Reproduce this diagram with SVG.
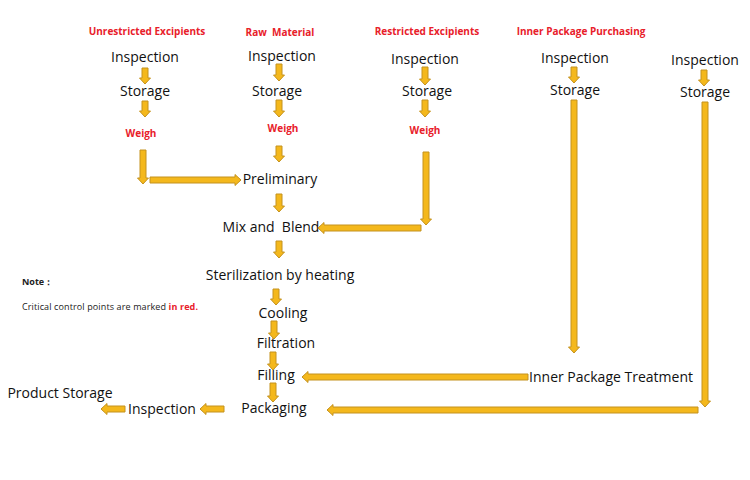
<svg xmlns="http://www.w3.org/2000/svg" width="750" height="480" viewBox="0 0 750 480">
<style>
.t{font-family:"Open Sans","Noto Sans",sans-serif;font-size:14px;fill:#111;text-anchor:middle}
.h{font-family:"Open Sans","Noto Sans",sans-serif;font-size:10px;font-weight:bold;fill:#e8202a;text-anchor:middle}
.w{font-family:"Open Sans","Noto Sans",sans-serif;font-size:10px;font-weight:bold;fill:#e8202a;text-anchor:middle}
.n{font-family:"Open Sans","Noto Sans",sans-serif;font-size:9px;fill:#222}
.arr{fill:#f4b81c;stroke:#c4921e;stroke-width:1}
</style>
<rect width="750" height="480" fill="#fff"/>
<g id="headings">
<text class="h" x="147" y="35">Unrestricted Excipients</text>
<text class="h" x="280" y="36" xml:space="preserve">Raw  Material</text>
<text class="h" x="427" y="35">Restricted Excipients</text>
<text class="h" x="581" y="35">Inner Package Purchasing</text>
</g>
<g id="col1">
<text class="t" x="145" y="62">Inspection</text>
<text class="t" x="145" y="96">Storage</text>
<text class="w" x="141" y="137">Weigh</text>
</g>
<g id="col2">
<text class="t" x="282" y="61">Inspection</text>
<text class="t" x="277" y="96">Storage</text>
<text class="w" x="283" y="132">Weigh</text>
<text class="t" x="280" y="184">Preliminary</text>
<text class="t" x="271" y="232" xml:space="preserve">Mix and  Blend</text>
<text class="t" x="280" y="280">Sterilization by heating</text>
<text class="t" x="283" y="318">Cooling</text>
<text class="t" x="286" y="348">Filtration</text>
<text class="t" x="276" y="380">Filling</text>
<text class="t" x="274" y="413">Packaging</text>
</g>
<g id="col3">
<text class="t" x="425" y="64">Inspection</text>
<text class="t" x="427" y="96">Storage</text>
<text class="w" x="425" y="134">Weigh</text>
</g>
<g id="col4">
<text class="t" x="575" y="63">Inspection</text>
<text class="t" x="575" y="95">Storage</text>
<text class="t" x="611" y="382">Inner Package Treatment</text>
</g>
<g id="col5">
<text class="t" x="705" y="65">Inspection</text>
<text class="t" x="705" y="97">Storage</text>
</g>
<g id="final">
<text class="t" x="162" y="414">Inspection</text>
<text class="t" x="60" y="398">Product Storage</text>
</g>
<g id="note">
<text class="n" x="22" y="285" font-weight="bold">Note：</text>
<text class="n" x="22" y="310" textLength="176">Critical control points are marked <tspan fill="#e8202a" font-weight="bold">in red.</tspan></text>
</g>
<g id="connectors">
<path class="arr" d="M142 68H148V78H150.5L145 84L139.5 78H142Z"/>
<path class="arr" d="M142 101H148V111H150.5L145 117L139.5 111H142Z"/>
<path class="arr" d="M276 64H282V75H284.5L279 81L273.5 75H276Z"/>
<path class="arr" d="M276 100H282V111H284.5L279 117L273.5 111H276Z"/>
<path class="arr" d="M276 146H282V156H284.5L279 162L273.5 156H276Z"/>
<path class="arr" d="M276 194H282V206H284.5L279 212L273.5 206H276Z"/>
<path class="arr" d="M276 241H282V252H284.5L279 258L273.5 252H276Z"/>
<path class="arr" d="M273 289H279V299H281.5L276 305L270.5 299H273Z"/>
<path class="arr" d="M271 321H277V333H279.5L274 339L268.5 333H271Z"/>
<path class="arr" d="M270 352H276V364H278.5L273 370L267.5 364H270Z"/>
<path class="arr" d="M270 383H276V396H278.5L273 402L267.5 396H270Z"/>
<path class="arr" d="M422 67H428V79H430.5L425 85L419.5 79H422Z"/>
<path class="arr" d="M422 100H428V111H430.5L425 117L419.5 111H422Z"/>
<path class="arr" d="M571 67H577V77H579.5L574 83L568.5 77H571Z"/>
<path class="arr" d="M701 70H707V80H709.5L704 86L698.5 80H701Z"/>
<path class="arr" d="M140 150H146V178H148.5L143 184L137.5 178H140Z"/>
<path class="arr" d="M150 177H235V174.5L241 180L235 185.5V183H150Z"/>
<path class="arr" d="M423 152H429V219H431.5L426 225L420.5 219H423Z"/>
<path class="arr" d="M421 225H324V222.5L318 228L324 233.5V231H421Z"/>
<path class="arr" d="M571 100H577V347H579.5L574 353L568.5 347H571Z"/>
<path class="arr" d="M528 374H308V371.5L302 377L308 382.5V380H528Z"/>
<path class="arr" d="M702 102H708V401H710.5L705 407L699.5 401H702Z"/>
<path class="arr" d="M698 407H333V404.5L327 410L333 415.5V413H698Z"/>
<path class="arr" d="M224 406H206V403.5L200 409L206 414.5V412H224Z"/>
<path class="arr" d="M125 406H107V403.5L101 409L107 414.5V412H125Z"/>
</g>
</svg>
